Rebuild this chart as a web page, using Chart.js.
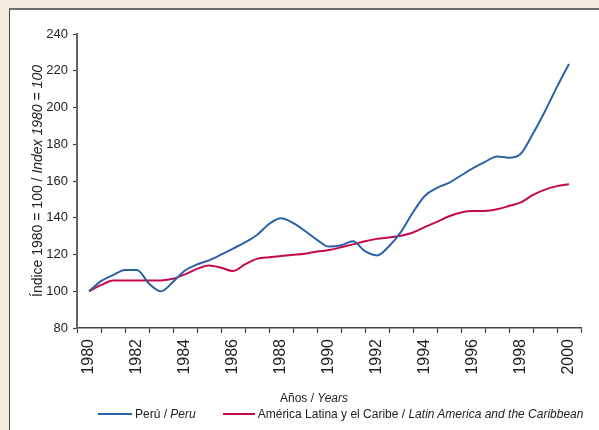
<!DOCTYPE html>
<html>
<head>
<meta charset="utf-8">
<script src="https://cdn.jsdelivr.net/npm/chart.js@4"></script>
<style>
  html, body { margin:0; padding:0; }
  body { width:599px; height:430px; background:#f5ebe0; position:relative; overflow:hidden;
         font-family:"Liberation Sans", Arial, sans-serif; color:#222; }
  #panel { position:absolute; left:9px; top:8px; width:590px; height:422px; background:#fff;
           border-top:2px solid #6e6e6e; border-left:1px solid #444; box-sizing:border-box; }
  #wrap { position:absolute; left:0; top:0; width:599px; height:430px; }
  .t { position:absolute; white-space:nowrap; font-weight:400; color:#222; }
  #ytitle { left:0px; top:0px; width:240px; height:16px; line-height:16px; text-align:center; font-size:14px;
            transform-origin:0 0; transform:translate(29px,301px) rotate(-90deg); }
  #xtitle { left:314px; top:398px; font-size:12px; transform:translate(-50%,-50%); }
  #legend { left:98px; top:414px; font-size:12px; transform:translateY(-50%); display:flex; align-items:center; }
  .sw { display:inline-block; width:34px; height:2px; margin-right:3px; }
</style>
</head>
<body>
<div id="panel"></div>
<div id="wrap"><canvas id="c" width="599" height="430"></canvas></div>
<div class="t" id="ytitle">Índice 1980 = 100 / <i>Index 1980 = 100</i></div>
<div class="t" id="xtitle">Años / <i>Years</i></div>
<div class="t" id="legend"><span class="sw" style="background:#2b62a6"></span>Perú / <i>&nbsp;Peru</i><span style="display:inline-block;width:27px"></span><span class="sw" style="background:#c40a4e;width:32px"></span>América Latina y el Caribe / <i>&nbsp;Latin America and the Caribbean</i></div>
<script>
const years = [1980,1980.5,1981,1981.5,1982,1982.5,1983,1983.5,1984,1984.5,1985,1985.5,1986,1986.5,1987,1987.5,1988,1988.5,1989,1989.5,1990,1990.5,1991,1991.5,1992,1992.5,1993,1993.5,1994,1994.5,1995,1995.5,1996,1996.5,1997,1997.5,1998,1998.5,1999,1999.5,2000];
const peru = [100,105.5,108.8,111.6,111.6,104.2,100,105.1,111.3,114.6,116.8,119.9,123.2,126.6,130.6,136.6,139.7,137.2,132.8,128,124.3,125,127.2,121.8,119.5,124.5,132.3,143,152,156.3,159,163,167,170.4,173.4,172.7,175,185.8,198,211.2,223.7];
const lac = [100,103.3,105.8,105.8,105.8,105.8,105.9,106.8,109.2,112.2,114,112.8,111,114.6,117.6,118.5,119.2,119.8,120.4,121.6,122.4,123.9,125.5,127.2,128.5,129.3,130.2,132,135,137.8,140.8,142.9,143.7,143.7,144.6,146.4,148.4,152.4,155.3,157.2,158.2];
const xTickLabels = ['1980','1982','1984','1986','1988','1990','1992','1994','1996','1998','2000'];
const xTickMarks = [1979.5,1980.5,1981.5,1982.5,1983.5,1984.5,1985.5,1986.5,1987.5,1988.5,1989.5,1990.5,1991.5,1992.5,1993.5,1994.5,1995.5,1996.5,1997.5,1998.5,1999.5,2000.5];
const yTicks = [80,100,120,140,160,180,200,220,240];

const pts = arr => arr.map((v,i) => ({x: years[i], y: v}));

new Chart(document.getElementById('c'), {
  type: 'line',
  data: {
    datasets: [
      { label:'Perú / Peru', data: pts(peru), borderColor:'#2b62a6', borderWidth:2, pointRadius:0, cubicInterpolationMode:'monotone', fill:false },
      { label:'América Latina y el Caribe / Latin America and the Caribbean', data: pts(lac), borderColor:'#c40a4e', borderWidth:2, pointRadius:0, cubicInterpolationMode:'monotone', fill:false }
    ]
  },
  options: {
    responsive:false, animation:false,
    layout: { padding: { left:0, right:18, top:34, bottom:0 } },
    plugins: { legend:{ display:false }, tooltip:{ enabled:false } },
    scales: {
      x: {
        type:'linear', min:1979.5, max:2000.5,
        afterBuildTicks: s => { s.ticks = xTickMarks.concat(xTickLabels.map(Number)).sort((a,b)=>a-b).map(v => ({value:v})); },
        afterFit: s => { s.height = 102; s.paddingLeft = 0; s.paddingRight = 0; },
        ticks: {
          autoSkip:false, minRotation:90, maxRotation:90, padding:6,
          color:'#222', font:{ family:'"Liberation Sans", Arial, sans-serif', size:16 },
          callback: v => xTickLabels.includes(String(v)) ? String(v) : ''
        },
        grid: { drawOnChartArea:false, tickLength:5, tickWidth:1.2,
                tickColor: ctx => (ctx.tick && Number.isInteger(ctx.tick.value)) ? 'rgba(0,0,0,0)' : '#444' },
        border: { color:'#444', width:1.5 }
      },
      y: {
        min:80, max:240,
        afterBuildTicks: s => { s.ticks = yTicks.map(v => ({value:v})); },
        afterFit: s => { s.width = 77; },
        ticks: { color:'#222', padding:5, font:{ family:'"Liberation Sans", Arial, sans-serif', size:13 } },
        grid: { drawOnChartArea:false, tickLength:4, tickColor:'#444', tickWidth:1.2 },
        border: { color:'#666', width:2 }
      }
    }
  }
});
</script>
</body>
</html>
